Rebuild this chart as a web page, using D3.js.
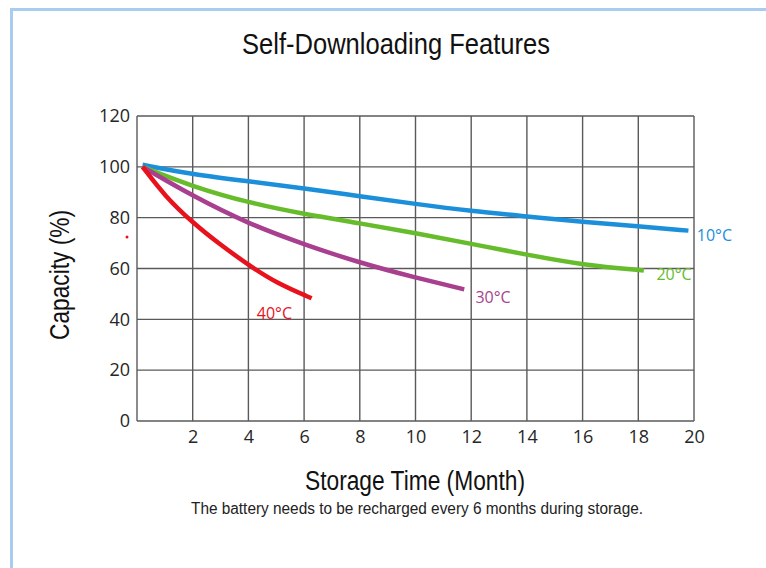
<!DOCTYPE html>
<html>
<head>
<meta charset="utf-8">
<script src="https://d3js.org/d3.v7.min.js"></script>
<style>
  body { margin: 0; background: #fff; }
  svg { display: block; }
</style>
</head>
<body>
<div id="chart"></div>
<script>
// data
var months10 = [0.2, 2, 4, 6, 8, 10, 12, 14, 16, 18, 19.8];
var cap10 = [100.8, 97, 94.3, 91.6, 88.4, 85.4, 82.6, 80.5, 78.3, 76.6, 74.9];
var months20 = [0.2, 2, 4, 6, 8, 10, 12, 14, 16, 18.2];
var cap20 = [100, 92.2, 85.9, 81.4, 77.8, 73.9, 69.7, 65.4, 61.4, 59.2];
var months30 = [0.2, 2, 4, 6, 8, 10, 11.75];
var cap30 = [100, 88.5, 77.6, 69.5, 62.2, 56.4, 51.8];
var months40 = [0.2, 1, 2, 3, 4, 5, 6.27];
var cap40 = [100, 88.5, 78, 69.3, 61.4, 54.3, 48.3];
var seriesNames = ['10°C', '20°C', '30°C', '40°C'];
var seriesColors = ['#1b8fd9', '#66bc2b', '#a83f8f', '#e8121d'];
var xTicks = [2, 4, 6, 8, 10, 12, 14, 16, 18, 20];
var yTicks = [0, 20, 40, 60, 80, 100, 120];

var W = 766, H = 568;
var margin = {top: 116, right: 72, bottom: 147, left: 137};
var width = W - margin.left - margin.right,
    height = H - margin.top - margin.bottom;

var narrow = "'Liberation Sans', Arial, sans-serif";

var svg = d3.select("#chart").append("svg")
    .attr("width", W)
    .attr("height", H);

// light blue frame
svg.append("rect")
    .attr("x", 11.5).attr("y", 9.5)
    .attr("width", W + 20).attr("height", H + 20)
    .attr("fill", "none")
    .attr("stroke", "#a9cdf0")
    .attr("stroke-width", 3);

var g = svg.append("g")
    .attr("transform", "translate(" + margin.left + "," + margin.top + ")");

var x = d3.scaleLinear().domain([0, 20]).range([0, width]);
var y = d3.scaleLinear().domain([0, 120]).range([height, 0]);

// grid
g.selectAll(".vgrid").data(xTicks).enter().append("line")
    .attr("class", "vgrid")
    .attr("x1", function (d) { return x(d); })
    .attr("x2", function (d) { return x(d); })
    .attr("y1", 0).attr("y2", height)
    .attr("stroke", "#5a5a5a").attr("stroke-width", 1.4);
g.selectAll(".hgrid").data(yTicks).enter().append("line")
    .attr("class", "hgrid")
    .attr("x1", 0).attr("x2", width)
    .attr("y1", function (d) { return y(d); })
    .attr("y2", function (d) { return y(d); })
    .attr("stroke", "#5a5a5a").attr("stroke-width", 1.4);
g.append("line")
    .attr("x1", 0).attr("x2", 0).attr("y1", 0).attr("y2", height)
    .attr("stroke", "#5a5a5a").attr("stroke-width", 1.4);

// axes (labels only)
var xAxis = g.append("g")
    .attr("transform", "translate(0," + height + ")")
    .call(d3.axisBottom(x).tickValues(xTicks).tickSize(0).tickPadding(9));
var yAxis = g.append("g")
    .call(d3.axisLeft(y).tickValues(yTicks).tickSize(0).tickPadding(7));
[xAxis, yAxis].forEach(function (a) {
    a.select(".domain").remove();
    a.selectAll("text")
        .style("font-family", "'Open Sans', sans-serif")
        .style("font-size", "18px")
        .attr("fill", "#262626");
});

// curves
var allMonths = [months10, months20, months30, months40];
var allCaps = [cap10, cap20, cap30, cap40];
var line = d3.line()
    .x(function (d) { return x(d[0]); })
    .y(function (d) { return y(d[1]); })
    .curve(d3.curveBasis);

var labelPos = [[20.1, 73], [18.65, 57.7], [12.15, 48.8], [4.3, 42.2]];

allMonths.forEach(function (m, i) {
    var pts = m.map(function (v, j) { return [v, allCaps[i][j]]; });
    g.append("path")
        .datum(pts)
        .attr("d", line)
        .attr("fill", "none")
        .attr("stroke", seriesColors[i])
        .attr("stroke-width", 4.5)
        .attr("stroke-linecap", "butt");
    g.append("text")
        .attr("x", x(labelPos[i][0]))
        .attr("y", y(labelPos[i][1]))
        .attr("dy", "0.35em")
        .style("font-family", "'Open Sans', sans-serif")
        .style("font-size", "16px")
        .attr("fill", seriesColors[i])
        .text(seriesNames[i]);
});

// stray red dot
svg.append("circle")
    .attr("cx", 127).attr("cy", 237).attr("r", 1.5)
    .attr("fill", "#e8121d");

// titles (condensed by textLength)
function narrowText(txt, xPos, yPos, size, len, fill) {
    return svg.append("text")
        .attr("x", xPos).attr("y", yPos)
        .attr("text-anchor", "middle")
        .attr("textLength", len)
        .attr("lengthAdjust", "spacingAndGlyphs")
        .style("font-family", narrow)
        .style("font-size", size + "px")
        .attr("fill", fill)
        .text(txt);
}

narrowText("Self-Downloading Features", 396, 54, 29, 308, "#111");
narrowText("Storage Time (Month)", 415, 490, 27, 220, "#111");
narrowText("The battery needs to be recharged every 6 months during storage.", 417, 514, 16, 452, "#222");
narrowText("Capacity (%)", 0, 0, 27, 130, "#111")
    .attr("transform", "translate(69,275) rotate(-90)");
</script>
</body>
</html>
